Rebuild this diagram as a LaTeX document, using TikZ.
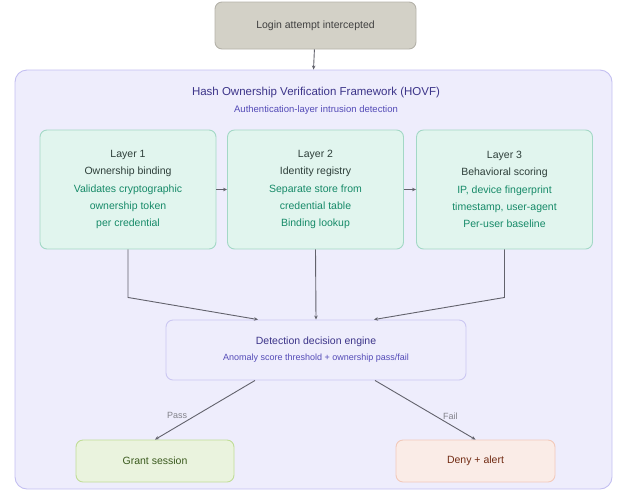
\documentclass[tikz,border=0pt]{standalone}
\usepackage{fontspec}
\setmainfont{Liberation Sans}
\usetikzlibrary{arrows.meta}

\definecolor{gfill}{HTML}{D3D1C7}
\definecolor{gline}{HTML}{B4B2A9}
\definecolor{pfill}{HTML}{EEEDFC}
\definecolor{pline}{HTML}{B9B4EE}
\definecolor{pdark}{HTML}{3C3489}
\definecolor{pmid}{HTML}{534AB7}
\definecolor{tfill}{HTML}{E1F5EE}
\definecolor{tline}{HTML}{A3D8C6}
\definecolor{tdark}{HTML}{2E3F3A}
\definecolor{tmid}{HTML}{168A68}
\definecolor{okfill}{HTML}{EAF3DE}
\definecolor{okline}{HTML}{C0DD97}
\definecolor{oktext}{HTML}{3B5A1E}
\definecolor{nofill}{HTML}{FAECE7}
\definecolor{noline}{HTML}{F2C9BA}
\definecolor{notext}{HTML}{712B13}
\definecolor{arr}{HTML}{62626C}

\begin{document}
\begin{tikzpicture}[x=1pt,y=-1pt,
  box/.style={draw,rounded corners=7pt,line width=0.9pt,align=center},
  layerbox/.style={box,fill=tfill,draw=tline,minimum width=176pt,minimum height=119pt,
    font=\fontsize{10.5}{17.2}\selectfont,text=tdark},
  link/.style={arr,line width=0.9pt,-{Stealth[length=4pt,width=3.5pt]}},
  tag/.style={font=\fontsize{9}{10}\selectfont,text=arr!80}]
  \useasboundingbox (0,0) rectangle (620,491);

  %frame
  \node[box,fill=pfill,draw=pline!85,rounded corners=12pt,minimum width=597pt,minimum height=419pt]
    (hovf) at (313.5,279.5) {};
  \node[text=pdark,font=\fontsize{11.5}{13}\selectfont] (title) at (316,93)
    {Hash Ownership Verification Framework (HOVF)};
  \node[text=pmid,font=\fontsize{9.5}{11}\selectfont] (subtitle) at (316,110)
    {Authentication-layer intrusion detection};

  %top
  \node[box,fill=gfill,draw=gline,minimum width=201pt,minimum height=47pt,
    text=black!75,font=\fontsize{10.5}{12}\selectfont] (login) at (315.5,25.5)
    {Login attempt intercepted};

  %layers
  \node[layerbox] (lay1) at (128,189.5)
    {Layer 1\\Ownership binding\\\textcolor{tmid}{Validates cryptographic}\\
     \textcolor{tmid}{ownership token}\\\textcolor{tmid}{per credential}};
  \node[layerbox] (lay2) at (315.5,189.5)
    {Layer 2\\Identity registry\\\textcolor{tmid}{Separate store from}\\
     \textcolor{tmid}{credential table}\\\textcolor{tmid}{Binding lookup}};
  \node[layerbox] (lay3) at (504.5,189.5)
    {Layer 3\\Behavioral scoring\\\textcolor{tmid}{IP, device fingerprint}\\
     \textcolor{tmid}{timestamp, user-agent}\\\textcolor{tmid}{Per-user baseline}};

  %engine
  \node[box,fill=pfill,draw=pline!75,minimum width=300pt,minimum height=60pt,
    font=\fontsize{10.5}{16}\selectfont,text=pdark] (engine) at (316,350)
    {Detection decision engine\\
     \textcolor{pmid}{\fontsize{9}{16}\selectfont Anomaly score threshold + ownership pass/fail}};

  %outcomes
  \node[box,fill=okfill,draw=okline,minimum width=158pt,minimum height=42pt,
    text=oktext,font=\fontsize{10.5}{12}\selectfont] (grant) at (155,461) {Grant session};
  \node[box,fill=nofill,draw=noline,minimum width=159pt,minimum height=42pt,
    text=notext,font=\fontsize{10.5}{12}\selectfont] (deny) at (475.5,461) {Deny + alert};

  %arrows
  \draw[link] (login) -- (hovf.north);
  \draw[link] (lay1) -- (lay2);
  \draw[link] (lay2) -- (lay3);
  \draw[link] (lay1.south) -- ++(0,48) -- ([xshift=-58pt]engine.north);
  \draw[link] (lay2.south) -- (engine.north);
  \draw[link] (lay3.south) -- ++(0,48) -- ([xshift=58pt]engine.north);
  \draw[link] ([xshift=-61pt]engine.south) -- (grant.north)
    node[tag,pos=0.6,left=4pt] {Pass};
  \draw[link] ([xshift=59pt]engine.south) -- (deny.north)
    node[tag,pos=0.6,right=4pt] {Fail};
\end{tikzpicture}
\end{document}
